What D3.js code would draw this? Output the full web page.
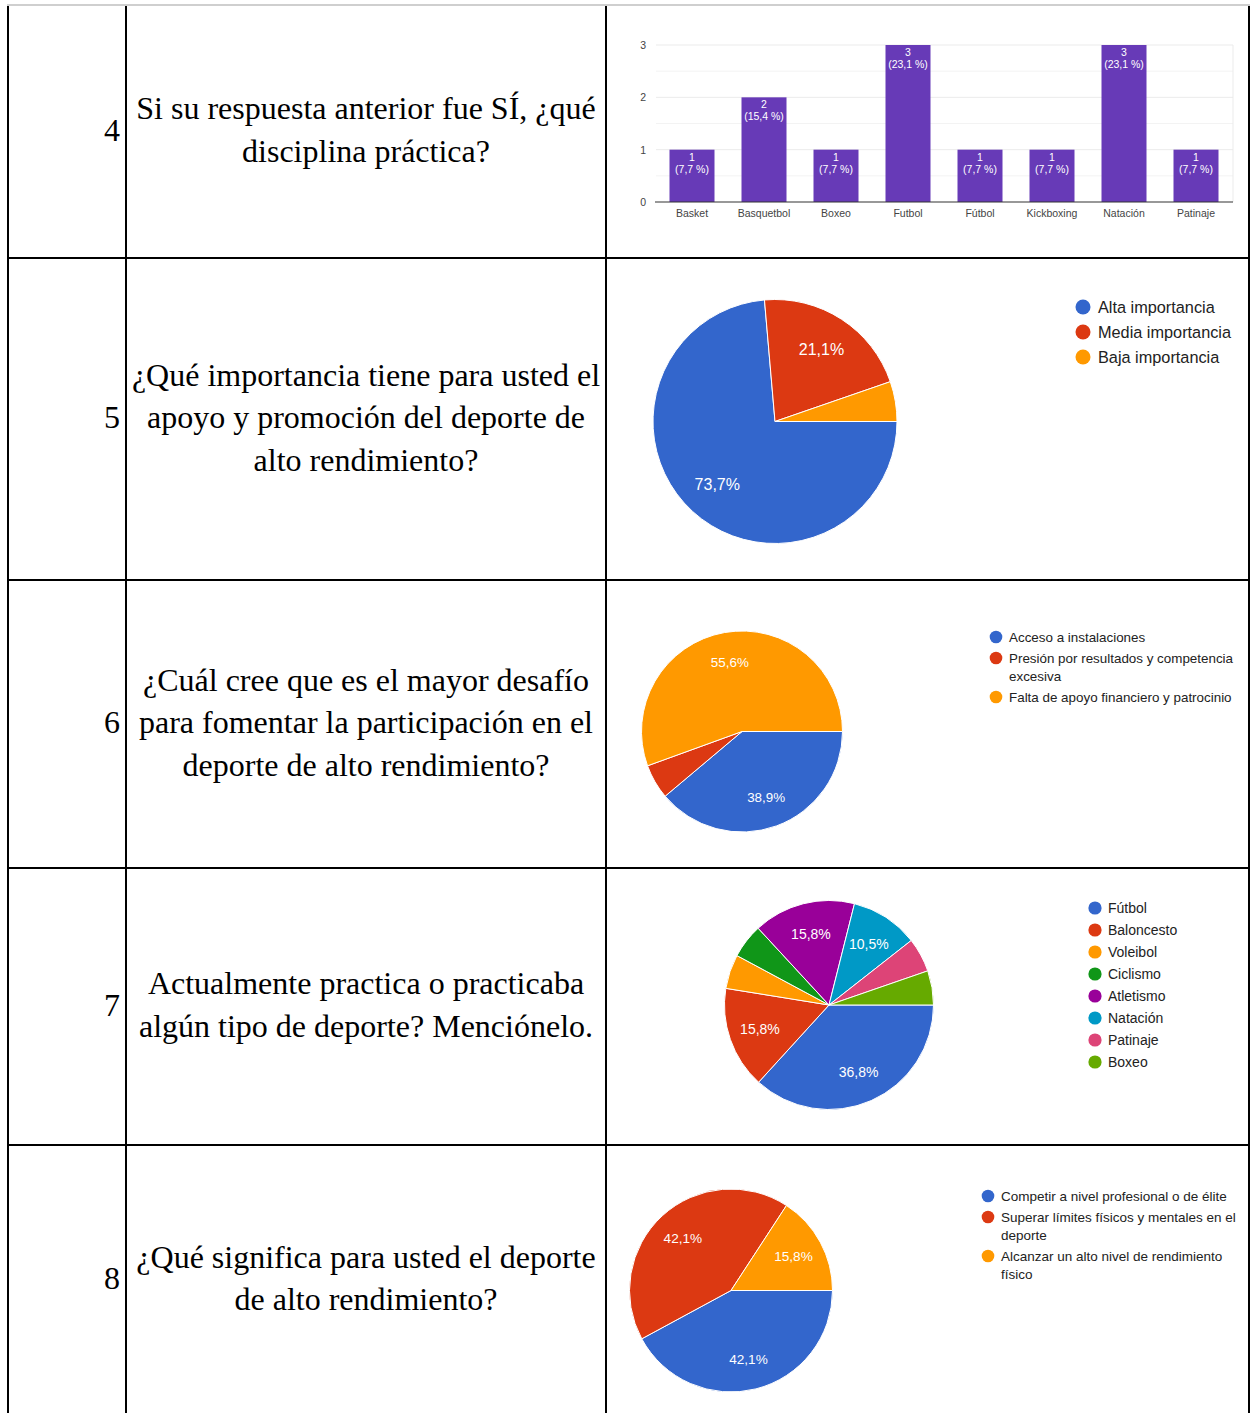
<!DOCTYPE html>
<html>
<head>
<meta charset="utf-8">
<script src="https://cdn.jsdelivr.net/npm/d3@7"></script>
<style>
  body { margin: 0; background: #fff; }
  .question { font-family: "Liberation Serif", "Times New Roman", serif; font-size: 32px; fill: #000; }
  .chart-text { font-family: "Liberation Sans", Arial, sans-serif; }
</style>
</head>
<body>
<div id="page"></div>
<script>
// table content
const rowNumbers = ["4", "5", "6", "7", "8"];
const questionLines = [
  ["Si su respuesta anterior fue SÍ, ¿qué", "disciplina práctica?"],
  ["¿Qué importancia tiene para usted el", "apoyo y promoción del deporte de", "alto rendimiento?"],
  ["¿Cuál cree que es el mayor desafío", "para fomentar la participación en el", "deporte de alto rendimiento?"],
  ["Actualmente practica o practicaba", "algún tipo de deporte? Menciónelo."],
  ["¿Qué significa para usted el deporte", "de alto rendimiento?"]
];

// question 4 (bar chart)
const disciplineNames = ["Basket", "Basquetbol", "Boxeo", "Futbol", "Fútbol", "Kickboxing", "Natación", "Patinaje"];
const disciplineCounts = [1, 2, 1, 3, 1, 1, 3, 1];
const disciplinePercents = ["7,7 %", "15,4 %", "7,7 %", "23,1 %", "7,7 %", "7,7 %", "23,1 %", "7,7 %"];
const barTicks = [0, 1, 2, 3];

// question 5
const importanceLabels = ["Alta importancia", "Media importancia", "Baja importancia"];
const importanceValues = [73.7, 21.1, 5.3];

// question 6
const challengeLabels = ["Acceso a instalaciones", "Presión por resultados y competencia excesiva", "Falta de apoyo financiero y patrocinio"];
const challengeValues = [38.9, 5.6, 55.6];

// question 7
const sportLabels = ["Fútbol", "Baloncesto", "Voleibol", "Ciclismo", "Atletismo", "Natación", "Patinaje", "Boxeo"];
const sportValues = [36.8, 15.8, 5.3, 5.3, 15.8, 10.5, 5.3, 5.3];

// question 8
const meaningLabels = ["Competir a nivel profesional o de élite", "Superar límites físicos y mentales en el deporte", "Alcanzar un alto nivel de rendimiento físico"];
const meaningValues = [42.1, 42.1, 15.8];

const pieColors = ["#3366cc", "#dc3912", "#ff9900", "#109618", "#990099", "#0099c6", "#dd4477", "#66aa00"];

const W = 1250, H = 1413;
const colX = [8, 126, 606, 1249];
const rowY = [5, 258, 580, 868, 1145, 1415];

const svg = d3.select("#page").append("svg").attr("width", W).attr("height", H);

// ---- table ----
function drawTable() {
  const g = svg.append("g");
  // light top rule
  g.append("line").attr("x1", 7).attr("x2", 1250).attr("y1", 5).attr("y2", 5)
    .attr("stroke", "#cfcfcf").attr("stroke-width", 2);
  colX.forEach((x) => {
    g.append("line").attr("x1", x).attr("x2", x).attr("y1", 6).attr("y2", H)
      .attr("stroke", "#000").attr("stroke-width", 2);
  });
  rowY.slice(1, -1).forEach((y) => {
    g.append("line").attr("x1", colX[0] - 1).attr("x2", colX[3] + 1).attr("y1", y).attr("y2", y)
      .attr("stroke", "#000").attr("stroke-width", 2);
  });

  const lineH = 42.5;
  rowNumbers.forEach((num, i) => {
    const mid = (rowY[i] + rowY[i + 1]) / 2;
    g.append("text").attr("class", "question")
      .attr("x", colX[1] - 6).attr("y", mid - 2).attr("dy", "0.35em")
      .attr("text-anchor", "end").text(num);

    const lines = questionLines[i];
    const top = mid - 2 - (lines.length - 1) * lineH / 2;
    lines.forEach((ln, j) => {
      g.append("text").attr("class", "question")
        .attr("x", (colX[1] + colX[2]) / 2).attr("y", top + j * lineH).attr("dy", "0.35em")
        .attr("text-anchor", "middle").text(ln);
    });
  });
}

class BarChart {
  constructor(parent, config) {
    this.config = config;
    this.g = parent.append("g").attr("class", "chart-text");
    this.initVis();
  }

  initVis() {
    const vis = this;
    const c = vis.config;

    vis.xScale = d3.scaleBand()
      .domain(disciplineNames)
      .range([c.left, c.right])
      .paddingInner(0.375)
      .paddingOuter(0.1875);

    vis.yScale = d3.scaleLinear()
      .domain([0, d3.max(barTicks)])
      .range([c.bottom, c.top]);

    // gridlines (minor + major)
    const minor = d3.range(0.5, d3.max(barTicks), 1);
    vis.g.selectAll(".minor").data(minor).enter().append("line")
      .attr("x1", c.left).attr("x2", c.right + 1)
      .attr("y1", (d) => vis.yScale(d)).attr("y2", (d) => vis.yScale(d))
      .attr("stroke", "#f3f3f3");
    vis.g.selectAll(".major").data(barTicks.slice(1)).enter().append("line")
      .attr("x1", c.left).attr("x2", c.right + 1)
      .attr("y1", (d) => vis.yScale(d)).attr("y2", (d) => vis.yScale(d))
      .attr("stroke", "#ebebeb");
    vis.g.append("line")
      .attr("x1", c.right + 1).attr("x2", c.right + 1)
      .attr("y1", c.top).attr("y2", c.bottom)
      .attr("stroke", "#ebebeb");

    // Y-axis
    vis.g.append("g")
      .attr("transform", `translate(${c.left},0)`)
      .call(d3.axisLeft(vis.yScale).tickValues(barTicks).tickFormat(d3.format("d")).tickSize(0).tickPadding(10))
      .call((a) => a.select(".domain").remove())
      .selectAll("text")
      .attr("font-size", 10.5).attr("fill", "#444").attr("font-family", null);

    // bars
    vis.g.selectAll(".bar").data(disciplineNames).enter().append("rect")
      .attr("x", (d) => vis.xScale(d))
      .attr("width", vis.xScale.bandwidth())
      .attr("y", (d, i) => vis.yScale(disciplineCounts[i]))
      .attr("height", (d, i) => c.bottom - vis.yScale(disciplineCounts[i]))
      .attr("fill", "#673ab7");

    // value labels
    const lab = vis.g.selectAll(".val").data(disciplineNames).enter().append("text")
      .attr("text-anchor", "middle").attr("font-size", 10.5).attr("fill", "#fff");
    lab.append("tspan")
      .attr("x", (d) => vis.xScale(d) + vis.xScale.bandwidth() / 2)
      .attr("y", (d, i) => vis.yScale(disciplineCounts[i]) + 11)
      .text((d, i) => disciplineCounts[i]);
    lab.append("tspan")
      .attr("x", (d) => vis.xScale(d) + vis.xScale.bandwidth() / 2)
      .attr("y", (d, i) => vis.yScale(disciplineCounts[i]) + 23)
      .text((d, i) => `(${disciplinePercents[i]})`);

    // X-axis
    vis.g.append("g")
      .attr("transform", `translate(0,${c.bottom})`)
      .call(d3.axisBottom(vis.xScale).tickSize(0).tickPadding(8))
      .call((a) => a.select(".domain").remove())
      .selectAll("text")
      .attr("font-size", 10.5).attr("fill", "#444").attr("font-family", null);

    // baseline
    vis.g.append("line")
      .attr("x1", c.left - 1).attr("x2", c.right + 1)
      .attr("y1", c.bottom).attr("y2", c.bottom)
      .attr("stroke", "#333").attr("stroke-width", 1.2);
  }
}

class PieChart {
  constructor(parent, labels, values, config) {
    this.labels = labels;
    this.values = values;
    this.config = config;
    this.g = parent.append("g").attr("class", "chart-text");
    this.initVis();
  }

  initVis() {
    const vis = this;
    const c = vis.config;
    const data = vis.values.map((v, i) => ({ v, i }));

    const pie = d3.pie().value((d) => d.v).sort(null)
      .startAngle(Math.PI / 2).endAngle(Math.PI / 2 + 2 * Math.PI);
    const arc = d3.arc().innerRadius(0).outerRadius(c.r);
    const labelArc = d3.arc().innerRadius(c.r * 0.7).outerRadius(c.r * 0.7);

    const pg = vis.g.append("g").attr("transform", `translate(${c.cx},${c.cy})`);
    const arcs = pie(data);
    pg.selectAll("path").data(arcs).enter().append("path")
      .attr("d", arc)
      .attr("fill", (d) => pieColors[d.data.i])
      .attr("stroke", "#fff").attr("stroke-width", 1);

    pg.selectAll(".lbl").data(arcs.filter((d) => d.data.v >= 10)).enter().append("text")
      .attr("transform", (d) => `translate(${labelArc.centroid(d)})`)
      .attr("text-anchor", "middle").attr("dy", "0.35em")
      .attr("font-size", c.labelSize).attr("fill", "#fff")
      .text((d) => d.data.v.toFixed(1).replace(".", ",") + "%");

    vis.drawLegend();
  }

  drawLegend() {
    const vis = this;
    const c = vis.config;
    let y = c.legendY;
    vis.labels.forEach((label, i) => {
      vis.g.append("circle")
        .attr("cx", c.legendX).attr("cy", y).attr("r", c.dot)
        .attr("fill", pieColors[i]);
      const t = vis.g.append("text")
        .attr("x", c.legendX + c.textGap).attr("y", y).attr("dy", "0.35em")
        .attr("font-size", c.legendSize).attr("fill", "#222");
      // simple word wrap
      const words = label.split(" ");
      let line = [];
      let lines = 0;
      let tspan = t.append("tspan").attr("x", c.legendX + c.textGap);
      words.forEach((w) => {
        line.push(w);
        tspan.text(line.join(" "));
        if (tspan.node().getComputedTextLength() > c.wrap && line.length > 1) {
          line.pop();
          tspan.text(line.join(" "));
          line = [w];
          lines++;
          tspan = t.append("tspan").attr("x", c.legendX + c.textGap)
            .attr("dy", c.lineH).text(w);
        }
      });
      y += c.step + lines * c.lineH;
    });
  }
}

drawTable();

new BarChart(svg, { left: 656, right: 1232, top: 45, bottom: 202 });

new PieChart(svg, importanceLabels, importanceValues, {
  cx: 775, cy: 421.5, r: 122, labelSize: 16,
  legendX: 1083, legendY: 307, dot: 7.5, textGap: 15, legendSize: 16.3,
  step: 25, lineH: 21, wrap: 300
});

new PieChart(svg, challengeLabels, challengeValues, {
  cx: 742, cy: 731.5, r: 100.5, labelSize: 13.4,
  legendX: 996, legendY: 637, dot: 6.3, textGap: 13, legendSize: 13.4,
  step: 21, lineH: 18, wrap: 232
});

new PieChart(svg, sportLabels, sportValues, {
  cx: 829, cy: 1005, r: 104.5, labelSize: 14,
  legendX: 1095, legendY: 908, dot: 6.6, textGap: 13, legendSize: 14,
  step: 22, lineH: 19, wrap: 300
});

new PieChart(svg, meaningLabels, meaningValues, {
  cx: 731, cy: 1290.5, r: 101.5, labelSize: 13.6,
  legendX: 988, legendY: 1196, dot: 6.3, textGap: 13, legendSize: 13.5,
  step: 21, lineH: 18, wrap: 242
});
</script>
</body>
</html>
